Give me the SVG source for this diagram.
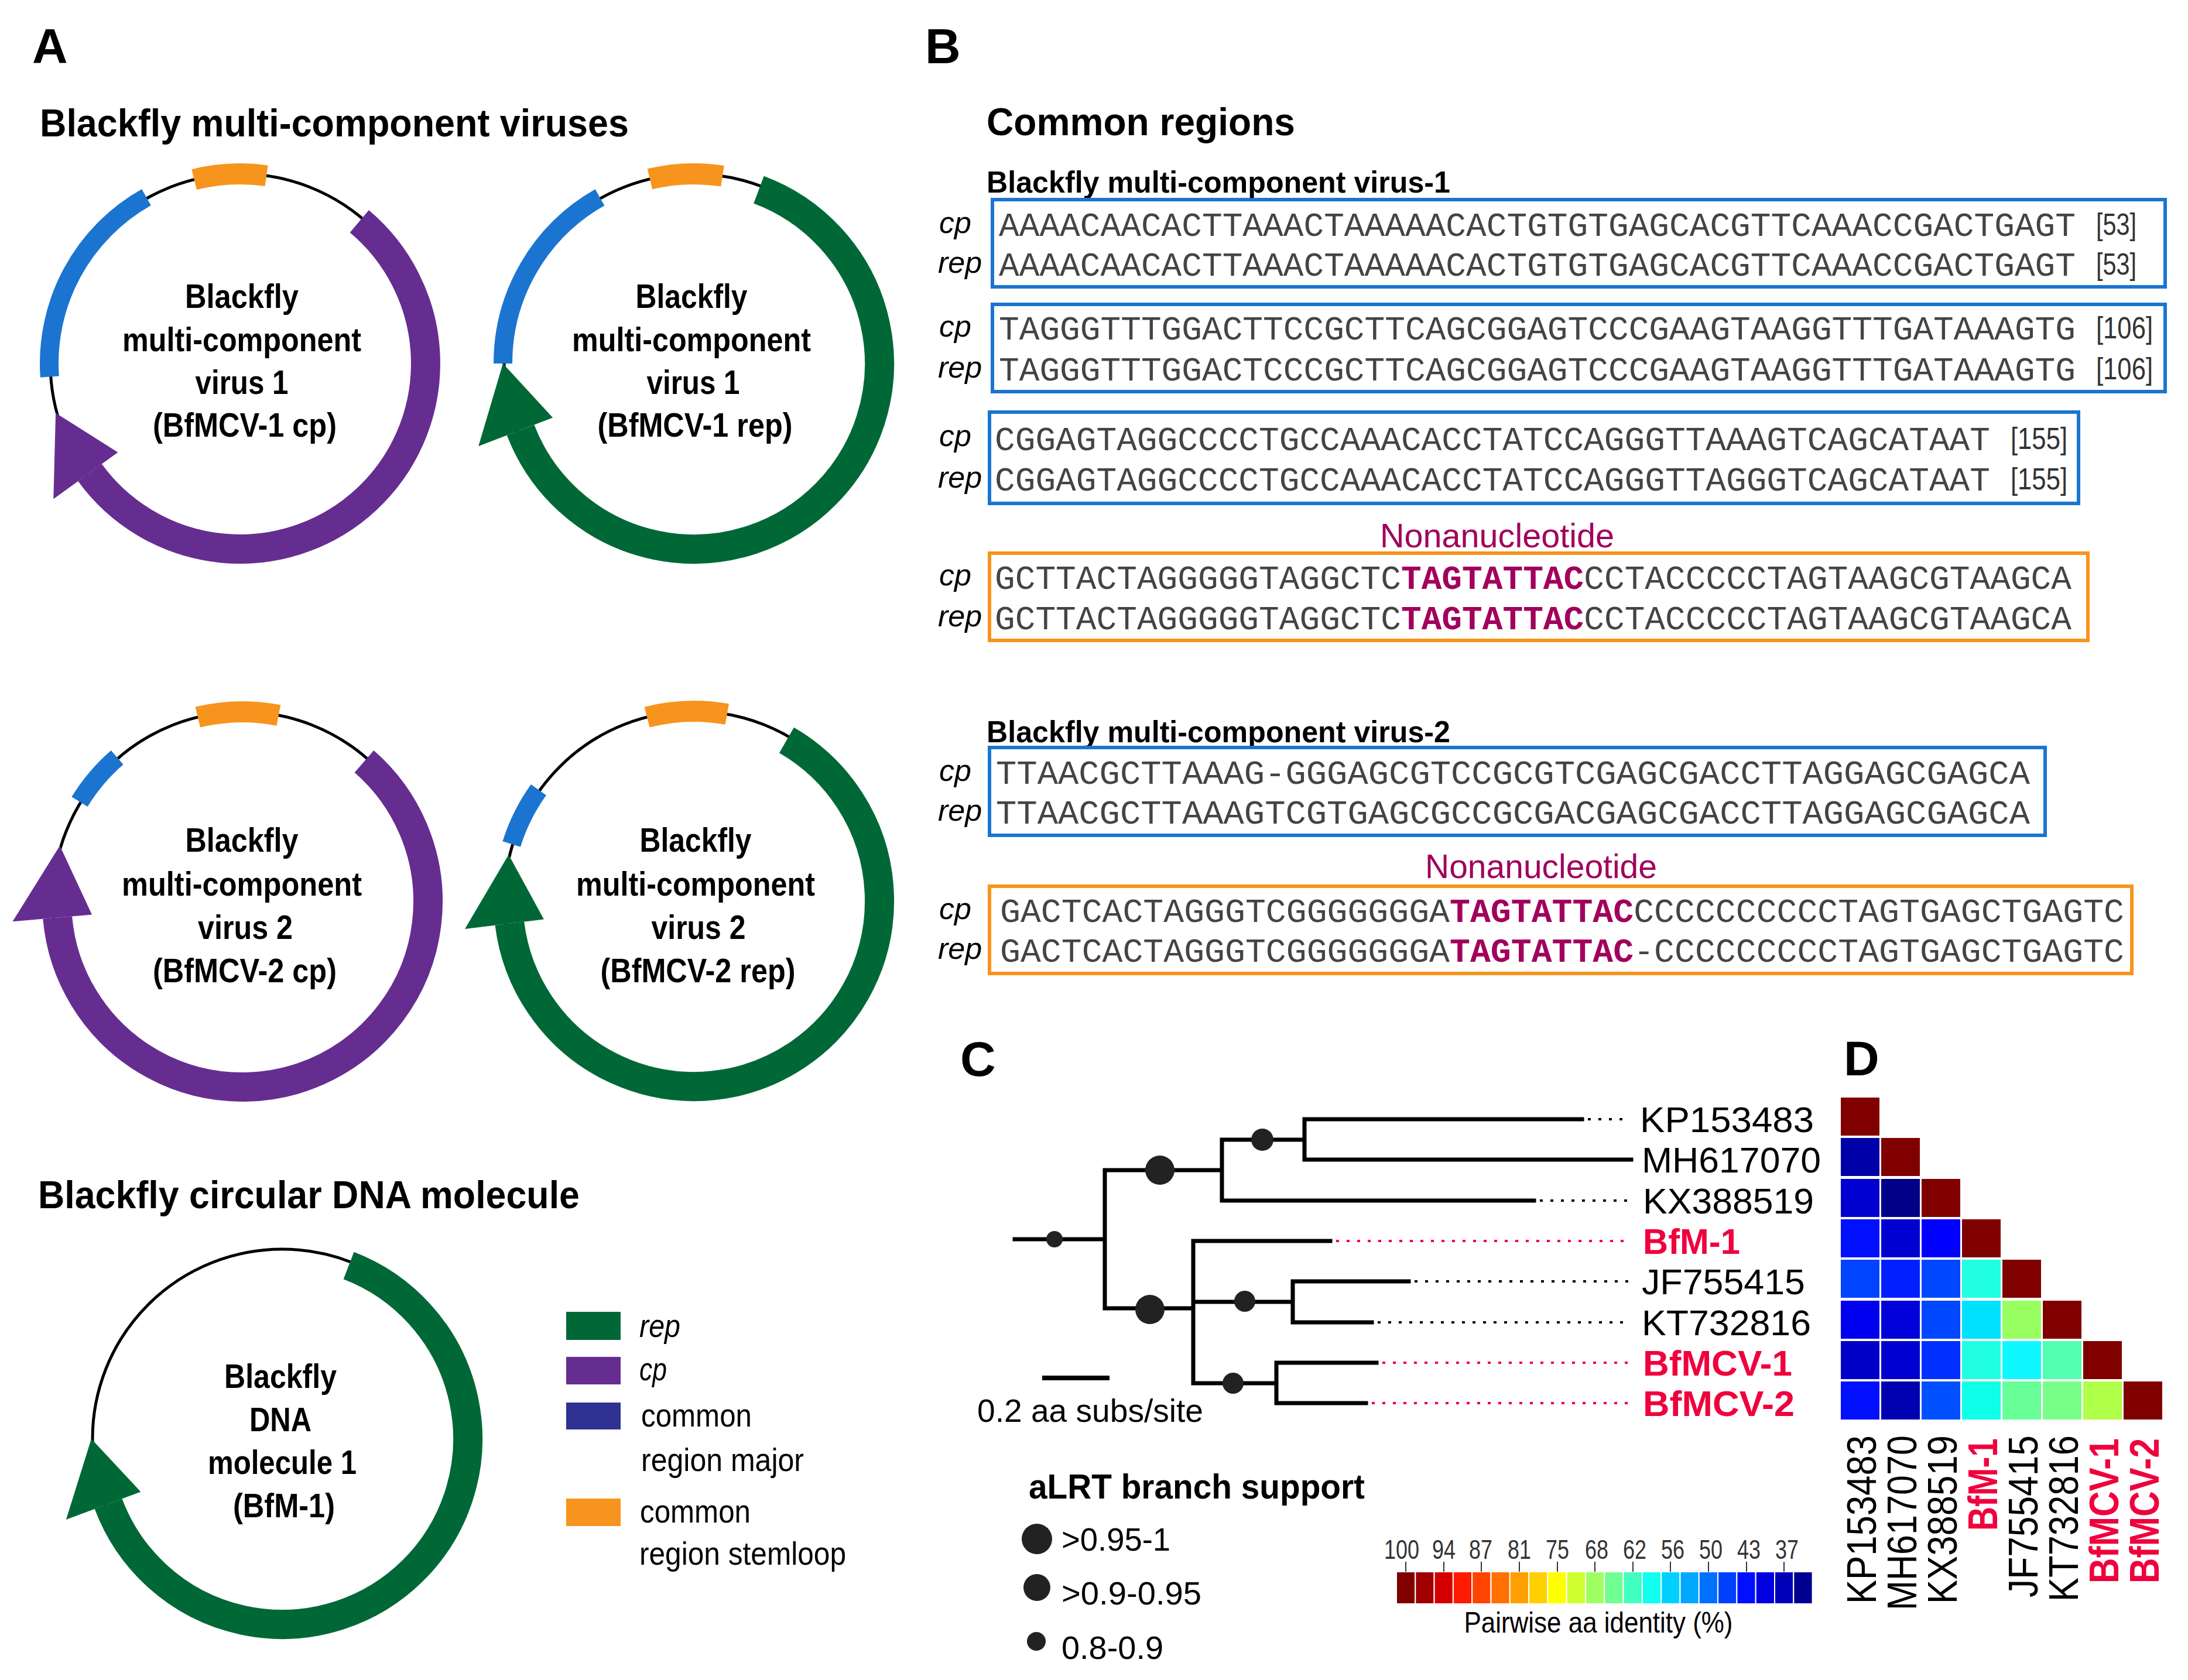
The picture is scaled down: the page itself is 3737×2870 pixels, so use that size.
<svg xmlns="http://www.w3.org/2000/svg" width="3737" height="2870" viewBox="0 0 3737 2870">
<style>
text{font-family:'Liberation Sans Narrow','Liberation Sans',Arial,sans-serif;fill:#000}
.lab{font-size:84px;font-weight:bold;font-family:'Liberation Sans',Arial,sans-serif}
.ttl{font-size:66px;font-weight:bold}
.sub{font-size:52px;font-weight:bold}
.ct{font-size:57px;font-weight:bold;text-anchor:middle}
.lg{font-size:56px}
.it{font-style:italic}
.seq{font-family:'Liberation Mono','Courier New',monospace;font-size:57px;fill:#444}
.nn{fill:#a1005c;font-weight:bold}
.nonl{font-size:58px;fill:#a1005c;text-anchor:middle}
.num{font-size:52px;fill:#333}
.sl{font-size:52px;font-style:italic}
.tip{font-size:61px}
.hl{font-size:70px}
.red{fill:#f0003c;font-weight:bold}
.sm{font-size:56px}
.tk{font-size:46px;fill:#333;text-anchor:middle}
.bb{fill:none;stroke:#000;stroke-width:5}
.arc{fill:none}
.or{stroke:#f7941d;stroke-width:36}
.bl{stroke:#1b75d0;stroke-width:32}
.pu{stroke:#662d91;stroke-width:50}
.gr{stroke:#006837;stroke-width:50}
.boxb{fill:none;stroke:#1b75d0;stroke-width:6}
.boxo{fill:none;stroke:#f7941d;stroke-width:6}
.br{stroke:#000;stroke-width:7;fill:none;stroke-linecap:square}
.dk{stroke:#000;stroke-width:4;stroke-dasharray:5 13}
.dr{stroke:#f0003c;stroke-width:4;stroke-dasharray:5 13}
.dot{fill:#222}
.hc{stroke:#fff;stroke-width:2}
</style>
<rect width="3737" height="2870" fill="#fff"/>

<!-- Panel A -->
<g id="panelA">
<text class="lab" x="55" y="108">A</text>
<text class="ttl" x="68" y="233" textLength="1006" lengthAdjust="spacingAndGlyphs">Blackfly multi-component viruses</text>

<g id="bfmcv1-cp">
<circle cx="410" cy="621" r="324" class="bb"/>
<path class="arc or" d="M331.6,306.6 A324,324 0 0 1 455.1,300.2"/>
<path class="arc bl" d="M84.8,643.7 A326,326 0 0 1 250.0,337.0"/>
<path class="arc pu" d="M613.8,378.2 A317,317 0 1 1 153.5,807.3"/>
<polygon fill="#662d91" points="201.3,772.7 91.3,852.6 95.1,705.4"/>
<text class="ct" x="413" y="526" textLength="194" lengthAdjust="spacingAndGlyphs">Blackfly</text>
<text class="ct" x="413" y="600" textLength="408" lengthAdjust="spacingAndGlyphs">multi-component</text>
<text class="ct" x="413" y="673" textLength="159" lengthAdjust="spacingAndGlyphs">virus 1</text>
<text class="ct" x="418" y="746" textLength="314" lengthAdjust="spacingAndGlyphs">(BfMCV-1 cp)</text>
</g>

<g id="bfmcv1-rep">
<circle cx="1185" cy="621" r="324" class="bb"/>
<path class="arc or" d="M1109.9,305.8 A324,324 0 0 1 1234.0,300.7"/>
<path class="arc bl" d="M859,621 A326,326 0 0 1 1024.5,337.2"/>
<path class="arc gr" d="M1296.0,324.1 A317,317 0 1 1 889.1,734.6"/>
<polygon fill="#006837" points="944.1,713.5 817.2,762.2 859,621"/>
<text class="ct" x="1181" y="526" textLength="191" lengthAdjust="spacingAndGlyphs">Blackfly</text>
<text class="ct" x="1181" y="600" textLength="408" lengthAdjust="spacingAndGlyphs">multi-component</text>
<text class="ct" x="1184" y="673" textLength="159" lengthAdjust="spacingAndGlyphs">virus 1</text>
<text class="ct" x="1187" y="746" textLength="333" lengthAdjust="spacingAndGlyphs">(BfMCV-1 rep)</text>
</g>

<g id="bfmcv2-cp">
<circle cx="414" cy="1540" r="324" class="bb"/>
<path class="arc or" d="M337.8,1225.1 A324,324 0 0 1 475.8,1222.0"/>
<path class="arc bl" d="M136.0,1369.7 A326,326 0 0 1 200.1,1294.0"/>
<path class="arc pu" d="M622.0,1300.8 A317,317 0 1 1 98.2,1567.6"/>
<polygon fill="#662d91" points="157.0,1562.5 21.5,1574.3 102.2,1444.7"/>
<text class="ct" x="413" y="1455" textLength="193" lengthAdjust="spacingAndGlyphs">Blackfly</text>
<text class="ct" x="413" y="1530" textLength="410" lengthAdjust="spacingAndGlyphs">multi-component</text>
<text class="ct" x="419" y="1604" textLength="162" lengthAdjust="spacingAndGlyphs">virus 2</text>
<text class="ct" x="418" y="1678" textLength="314" lengthAdjust="spacingAndGlyphs">(BfMCV-2 cp)</text>
</g>

<g id="bfmcv2-rep">
<circle cx="1185" cy="1539" r="324" class="bb"/>
<path class="arc or" d="M1105.0,1225.1 A324,324 0 0 1 1241.8,1220.0"/>
<path class="arc bl" d="M873.7,1442.0 A326,326 0 0 1 919.9,1349.2"/>
<path class="arc gr" d="M1343.5,1264.5 A317,317 0 1 1 870.4,1577.6"/>
<polygon fill="#006837" points="928.9,1570.4 794.0,1587.0 868.7,1460.1"/>
<text class="ct" x="1188" y="1455" textLength="191" lengthAdjust="spacingAndGlyphs">Blackfly</text>
<text class="ct" x="1188" y="1530" textLength="408" lengthAdjust="spacingAndGlyphs">multi-component</text>
<text class="ct" x="1193" y="1604" textLength="161" lengthAdjust="spacingAndGlyphs">virus 2</text>
<text class="ct" x="1192" y="1678" textLength="333" lengthAdjust="spacingAndGlyphs">(BfMCV-2 rep)</text>
</g>

<text class="ttl" x="65" y="2064" textLength="925" lengthAdjust="spacingAndGlyphs">Blackfly circular DNA molecule</text>

<g id="bfm1">
<circle cx="482" cy="2458" r="324" class="bb"/>
<path class="arc gr" d="M595.6,2162.0 A317,317 0 1 1 185.1,2569.0"/>
<polygon fill="#006837" points="240.3,2548.4 112.9,2596.0 156,2458"/>
<text class="ct" x="479" y="2371" textLength="192" lengthAdjust="spacingAndGlyphs">Blackfly</text>
<text class="ct" x="479" y="2445" textLength="106" lengthAdjust="spacingAndGlyphs">DNA</text>
<text class="ct" x="482" y="2518" textLength="254" lengthAdjust="spacingAndGlyphs">molecule 1</text>
<text class="ct" x="485" y="2592" textLength="174" lengthAdjust="spacingAndGlyphs">(BfM-1)</text>
</g>

<g id="legendA">
<rect x="967" y="2241" width="93" height="48" fill="#006837"/>
<rect x="967" y="2318" width="93" height="47" fill="#662d91"/>
<rect x="967" y="2396" width="93" height="46" fill="#2e3192"/>
<rect x="967" y="2560" width="93" height="47" fill="#f7941d"/>
<text class="lg it" x="1092" y="2284" textLength="70" lengthAdjust="spacingAndGlyphs">rep</text>
<text class="lg it" x="1092" y="2358" textLength="47" lengthAdjust="spacingAndGlyphs">cp</text>
<text class="lg" x="1095" y="2437" textLength="189" lengthAdjust="spacingAndGlyphs">common</text>
<text class="lg" x="1095" y="2513" textLength="278" lengthAdjust="spacingAndGlyphs">region major</text>
<text class="lg" x="1093" y="2601" textLength="189" lengthAdjust="spacingAndGlyphs">common</text>
<text class="lg" x="1092" y="2673" textLength="353" lengthAdjust="spacingAndGlyphs">region stemloop</text>
</g>
</g>

<!-- Panel B -->
<g id="panelB">
<text class="lab" x="1580" y="108">B</text>
<text class="ttl" x="1685" y="231" textLength="527" lengthAdjust="spacingAndGlyphs">Common regions</text>
<text class="sub" x="1685" y="329" textLength="792" lengthAdjust="spacingAndGlyphs">Blackfly multi-component virus-1</text>

<g id="box1">
<rect class="boxb" x="1695" y="341" width="2003" height="149"/>
<text class="sl" x="1604" y="398">cp</text>
<text class="sl" x="1602" y="466">rep</text>
<text class="seq" x="1706" y="403" textLength="1839" lengthAdjust="spacingAndGlyphs">AAAACAACACTTAAACTAAAAACACTGTGTGAGCACGTTCAAACCGACTGAGT</text>
<text class="seq" x="1706" y="471" textLength="1839" lengthAdjust="spacingAndGlyphs">AAAACAACACTTAAACTAAAAACACTGTGTGAGCACGTTCAAACCGACTGAGT</text>
<text class="num" x="3580" y="401" textLength="69" lengthAdjust="spacingAndGlyphs">[53]</text>
<text class="num" x="3580" y="469" textLength="69" lengthAdjust="spacingAndGlyphs">[53]</text>
</g>

<g id="box2">
<rect class="boxb" x="1695" y="520" width="2003" height="149"/>
<text class="sl" x="1604" y="575">cp</text>
<text class="sl" x="1602" y="645">rep</text>
<text class="seq" x="1706" y="580" textLength="1839" lengthAdjust="spacingAndGlyphs">TAGGGTTTGGACTTCCGCTTCAGCGGAGTCCCGAAGTAAGGTTTGATAAAGTG</text>
<text class="seq" x="1706" y="650" textLength="1839" lengthAdjust="spacingAndGlyphs">TAGGGTTTGGACTCCCGCTTCAGCGGAGTCCCGAAGTAAGGTTTGATAAAGTG</text>
<text class="num" x="3580" y="578" textLength="97" lengthAdjust="spacingAndGlyphs">[106]</text>
<text class="num" x="3580" y="648" textLength="97" lengthAdjust="spacingAndGlyphs">[106]</text>
</g>

<g id="box3">
<rect class="boxb" x="1690" y="704" width="1860" height="156"/>
<text class="sl" x="1604" y="762">cp</text>
<text class="sl" x="1602" y="833">rep</text>
<text class="seq" x="1699" y="769" textLength="1700" lengthAdjust="spacingAndGlyphs">CGGAGTAGGCCCCTGCCAAACACCTATCCAGGGTTAAAGTCAGCATAAT</text>
<text class="seq" x="1699" y="838" textLength="1700" lengthAdjust="spacingAndGlyphs">CGGAGTAGGCCCCTGCCAAACACCTATCCAGGGTTAGGGTCAGCATAAT</text>
<text class="num" x="3434" y="767" textLength="97" lengthAdjust="spacingAndGlyphs">[155]</text>
<text class="num" x="3434" y="836" textLength="97" lengthAdjust="spacingAndGlyphs">[155]</text>
</g>

<text class="nonl" x="2557" y="935" textLength="400" lengthAdjust="spacingAndGlyphs">Nonanucleotide</text>

<g id="box4">
<rect class="boxo" x="1690" y="945" width="1876" height="149"/>
<text class="sl" x="1604" y="1000">cp</text>
<text class="sl" x="1602" y="1070">rep</text>
<text class="seq" x="1699" y="1006" textLength="1839" lengthAdjust="spacingAndGlyphs">GCTTACTAGGGGGTAGGCTC<tspan class="nn">TAGTATTAC</tspan>CCTACCCCCTAGTAAGCGTAAGCA</text>
<text class="seq" x="1699" y="1075" textLength="1839" lengthAdjust="spacingAndGlyphs">GCTTACTAGGGGGTAGGCTC<tspan class="nn">TAGTATTAC</tspan>CCTACCCCCTAGTAAGCGTAAGCA</text>
</g>

<text class="sub" x="1685" y="1268" textLength="792" lengthAdjust="spacingAndGlyphs">Blackfly multi-component virus-2</text>

<g id="box5">
<rect class="boxb" x="1690" y="1277" width="1803" height="150"/>
<text class="sl" x="1604" y="1334">cp</text>
<text class="sl" x="1602" y="1402">rep</text>
<text class="seq" x="1701" y="1339" textLength="1766" lengthAdjust="spacingAndGlyphs">TTAACGCTTAAAG-GGGAGCGTCCGCGTCGAGCGACCTTAGGAGCGAGCA</text>
<text class="seq" x="1701" y="1407" textLength="1766" lengthAdjust="spacingAndGlyphs">TTAACGCTTAAAGTCGTGAGCGCCGCGACGAGCGACCTTAGGAGCGAGCA</text>
</g>

<text class="nonl" x="2632" y="1500" textLength="396" lengthAdjust="spacingAndGlyphs">Nonanucleotide</text>

<g id="box6">
<rect class="boxo" x="1690" y="1514" width="1951" height="149"/>
<text class="sl" x="1604" y="1570">cp</text>
<text class="sl" x="1602" y="1638">rep</text>
<text class="seq" x="1708" y="1575" textLength="1920" lengthAdjust="spacingAndGlyphs">GACTCACTAGGGTCGGGGGGGA<tspan class="nn">TAGTATTAC</tspan>CCCCCCCCCCTAGTGAGCTGAGTC</text>
<text class="seq" x="1708" y="1643" textLength="1920" lengthAdjust="spacingAndGlyphs">GACTCACTAGGGTCGGGGGGGA<tspan class="nn">TAGTATTAC</tspan>-CCCCCCCCCTAGTGAGCTGAGTC</text>
</g>
</g>

<!-- Panel C -->
<g id="panelC">
<text class="lab" x="1640" y="1838">C</text>

<g id="connectors">
<path class="br" d="M2228,1912 H2702 M2228,1981 H2786 M2228,1912 V1981 M2087,1947 H2228 M2087,1947 V2051 H2620 M1887,1999 H2087 M1887,1999 V2235 H2038 M1733,2117 H1887 M2038,2120 V2363 M2038,2120 H2272 M2038,2224 H2208 M2208,2189 V2259 M2208,2189 H2406 M2208,2259 H2343 M2038,2363 H2180 M2180,2328 V2397 M2180,2328 H2351 M2180,2397 H2333"/>
<line class="dk" x1="2712" y1="1912" x2="2781" y2="1912"/>
<line class="dk" x1="2630" y1="2051" x2="2781" y2="2051"/>
<line class="dr" x1="2282" y1="2120" x2="2781" y2="2120"/>
<line class="dk" x1="2416" y1="2189" x2="2781" y2="2189"/>
<line class="dk" x1="2353" y1="2259" x2="2781" y2="2259"/>
<line class="dr" x1="2361" y1="2328" x2="2781" y2="2328"/>
<line class="dr" x1="2343" y1="2397" x2="2781" y2="2397"/>
</g>

<g id="support-dots">
<circle class="dot" cx="2156" cy="1947" r="19"/>
<circle class="dot" cx="1981" cy="1999" r="25"/>
<circle class="dot" cx="1964" cy="2237" r="25"/>
<circle class="dot" cx="2126" cy="2223" r="18"/>
<circle class="dot" cx="2106" cy="2363" r="18"/>
<circle class="dot" cx="1801" cy="2117" r="14"/>
</g>

<g id="tips">
<text class="tip" x="2801" y="1934" textLength="297" lengthAdjust="spacingAndGlyphs">KP153483</text>
<text class="tip" x="2804" y="2003" textLength="306" lengthAdjust="spacingAndGlyphs">MH617070</text>
<text class="tip" x="2806" y="2073" textLength="292" lengthAdjust="spacingAndGlyphs">KX388519</text>
<text class="tip red" x="2806" y="2142" textLength="166" lengthAdjust="spacingAndGlyphs">BfM-1</text>
<text class="tip" x="2804" y="2211" textLength="279" lengthAdjust="spacingAndGlyphs">JF755415</text>
<text class="tip" x="2804" y="2281" textLength="289" lengthAdjust="spacingAndGlyphs">KT732816</text>
<text class="tip red" x="2806" y="2350" textLength="255" lengthAdjust="spacingAndGlyphs">BfMCV-1</text>
<text class="tip red" x="2806" y="2419" textLength="259" lengthAdjust="spacingAndGlyphs">BfMCV-2</text>
</g>

<g id="scalebar">
<line x1="1780" y1="2354" x2="1895" y2="2354" stroke="#000" stroke-width="8"/>
<text class="sm" x="1669" y="2429" textLength="386" lengthAdjust="spacingAndGlyphs">0.2 aa subs/site</text>
</g>

<g id="support-legend">
<text x="1757" y="2560" font-size="60" font-weight="bold" fill="#222" textLength="574" lengthAdjust="spacingAndGlyphs">aLRT branch support</text>
<circle class="dot" cx="1771" cy="2629" r="26"/>
<circle class="dot" cx="1771" cy="2712" r="23"/>
<circle class="dot" cx="1770" cy="2804" r="16"/>
<text class="sm" x="1813" y="2649" textLength="186" lengthAdjust="spacingAndGlyphs">&gt;0.95-1</text>
<text class="sm" x="1813" y="2741" textLength="239" lengthAdjust="spacingAndGlyphs">&gt;0.9-0.95</text>
<text class="sm" x="1813" y="2834" textLength="174" lengthAdjust="spacingAndGlyphs">0.8-0.9</text>
</g>

<g id="colorbar">
<rect x="2385.0" y="2685" width="32.3" height="55" fill="#800000" class="hc"/>
<rect x="2417.3" y="2685" width="32.3" height="55" fill="#a00000" class="hc"/>
<rect x="2449.6" y="2685" width="32.3" height="55" fill="#d40000" class="hc"/>
<rect x="2481.9" y="2685" width="32.3" height="55" fill="#ff1a00" class="hc"/>
<rect x="2514.2" y="2685" width="32.3" height="55" fill="#ff4400" class="hc"/>
<rect x="2546.5" y="2685" width="32.3" height="55" fill="#ff7000" class="hc"/>
<rect x="2578.8" y="2685" width="32.3" height="55" fill="#ffa000" class="hc"/>
<rect x="2611.1" y="2685" width="32.3" height="55" fill="#ffd000" class="hc"/>
<rect x="2643.4" y="2685" width="32.3" height="55" fill="#ffff00" class="hc"/>
<rect x="2675.7" y="2685" width="32.3" height="55" fill="#d0ff30" class="hc"/>
<rect x="2708.0" y="2685" width="32.3" height="55" fill="#a0ff60" class="hc"/>
<rect x="2740.3" y="2685" width="32.3" height="55" fill="#70ff90" class="hc"/>
<rect x="2772.6" y="2685" width="32.3" height="55" fill="#40ffc0" class="hc"/>
<rect x="2804.9" y="2685" width="32.3" height="55" fill="#10ffef" class="hc"/>
<rect x="2837.2" y="2685" width="32.3" height="55" fill="#00d0ff" class="hc"/>
<rect x="2869.5" y="2685" width="32.3" height="55" fill="#00a8ff" class="hc"/>
<rect x="2901.8" y="2685" width="32.3" height="55" fill="#0070ff" class="hc"/>
<rect x="2934.1" y="2685" width="32.3" height="55" fill="#0040ff" class="hc"/>
<rect x="2966.4" y="2685" width="32.3" height="55" fill="#0010ff" class="hc"/>
<rect x="2998.7" y="2685" width="32.3" height="55" fill="#0000e0" class="hc"/>
<rect x="3031.0" y="2685" width="32.3" height="55" fill="#0000b8" class="hc"/>
<rect x="3063.3" y="2685" width="32.3" height="55" fill="#000090" class="hc"/>
<path stroke="#333" stroke-width="2" d="M2401,2668V2685 M2466,2668V2685 M2530,2668V2685 M2595,2668V2685 M2660,2668V2685 M2724,2668V2685 M2789,2668V2685 M2853,2668V2685 M2918,2668V2685 M2983,2668V2685 M3047,2668V2685"/>
<text class="tk" x="2394" y="2663" textLength="60" lengthAdjust="spacingAndGlyphs">100</text>
<text class="tk" x="2466" y="2663" textLength="40" lengthAdjust="spacingAndGlyphs">94</text>
<text class="tk" x="2529" y="2663" textLength="40" lengthAdjust="spacingAndGlyphs">87</text>
<text class="tk" x="2595" y="2663" textLength="40" lengthAdjust="spacingAndGlyphs">81</text>
<text class="tk" x="2660" y="2663" textLength="40" lengthAdjust="spacingAndGlyphs">75</text>
<text class="tk" x="2727" y="2663" textLength="40" lengthAdjust="spacingAndGlyphs">68</text>
<text class="tk" x="2792" y="2663" textLength="40" lengthAdjust="spacingAndGlyphs">62</text>
<text class="tk" x="2857" y="2663" textLength="40" lengthAdjust="spacingAndGlyphs">56</text>
<text class="tk" x="2922" y="2663" textLength="40" lengthAdjust="spacingAndGlyphs">50</text>
<text class="tk" x="2987" y="2663" textLength="40" lengthAdjust="spacingAndGlyphs">43</text>
<text class="tk" x="3052" y="2663" textLength="40" lengthAdjust="spacingAndGlyphs">37</text>
<text x="2730" y="2789" font-size="50" fill="#333" text-anchor="middle" textLength="459" lengthAdjust="spacingAndGlyphs">Pairwise aa identity (%)</text>
</g>
</g>

<!-- Panel D -->
<g id="panelD">
<text class="lab" x="3149" y="1837">D</text>
<g id="heatmap">
<rect x="3144" y="1875" width="66" height="65" fill="#800000"/>
<rect x="3144" y="1944" width="66" height="65" fill="#0000a8"/>
<rect x="3213" y="1944" width="66" height="65" fill="#800000"/>
<rect x="3144" y="2014" width="66" height="65" fill="#0000d0"/>
<rect x="3213" y="2014" width="66" height="65" fill="#000088"/>
<rect x="3282" y="2014" width="66" height="65" fill="#800000"/>
<rect x="3144" y="2083" width="66" height="65" fill="#0010ff"/>
<rect x="3213" y="2083" width="66" height="65" fill="#0000d0"/>
<rect x="3282" y="2083" width="66" height="65" fill="#0000ff"/>
<rect x="3351" y="2083" width="66" height="65" fill="#800000"/>
<rect x="3144" y="2152" width="66" height="65" fill="#0044ff"/>
<rect x="3213" y="2152" width="66" height="65" fill="#0020ff"/>
<rect x="3282" y="2152" width="66" height="65" fill="#0048ff"/>
<rect x="3351" y="2152" width="66" height="65" fill="#20ffe0"/>
<rect x="3420" y="2152" width="66" height="65" fill="#800000"/>
<rect x="3144" y="2222" width="66" height="65" fill="#0000f0"/>
<rect x="3213" y="2222" width="66" height="65" fill="#0000d8"/>
<rect x="3282" y="2222" width="66" height="65" fill="#0048ff"/>
<rect x="3351" y="2222" width="66" height="65" fill="#00e0ff"/>
<rect x="3420" y="2222" width="66" height="65" fill="#98ff60"/>
<rect x="3489" y="2222" width="66" height="65" fill="#800000"/>
<rect x="3144" y="2291" width="66" height="65" fill="#0000c8"/>
<rect x="3213" y="2291" width="66" height="65" fill="#0000d0"/>
<rect x="3282" y="2291" width="66" height="65" fill="#0030ff"/>
<rect x="3351" y="2291" width="66" height="65" fill="#20ffe0"/>
<rect x="3420" y="2291" width="66" height="65" fill="#10f8ff"/>
<rect x="3489" y="2291" width="66" height="65" fill="#50ffb0"/>
<rect x="3558" y="2291" width="66" height="65" fill="#800000"/>
<rect x="3144" y="2360" width="66" height="65" fill="#0010ff"/>
<rect x="3213" y="2360" width="66" height="65" fill="#0000b0"/>
<rect x="3282" y="2360" width="66" height="65" fill="#0050ff"/>
<rect x="3351" y="2360" width="66" height="65" fill="#10ffe8"/>
<rect x="3420" y="2360" width="66" height="65" fill="#68ff98"/>
<rect x="3489" y="2360" width="66" height="65" fill="#78ff8a"/>
<rect x="3558" y="2360" width="66" height="65" fill="#b0ff48"/>
<rect x="3627" y="2360" width="66" height="65" fill="#800000"/>
</g>
<g id="heat-labels">
<text class="hl" text-anchor="end" transform="translate(3204,2452) rotate(-90)" textLength="288" lengthAdjust="spacingAndGlyphs">KP153483</text>
<text class="hl" text-anchor="end" transform="translate(3273,2452) rotate(-90)" textLength="299" lengthAdjust="spacingAndGlyphs">MH617070</text>
<text class="hl" text-anchor="end" transform="translate(3342,2452) rotate(-90)" textLength="288" lengthAdjust="spacingAndGlyphs">KX388519</text>
<text class="hl red" text-anchor="end" transform="translate(3411,2457) rotate(-90)" textLength="158" lengthAdjust="spacingAndGlyphs">BfM-1</text>
<text class="hl" text-anchor="end" transform="translate(3480,2452) rotate(-90)" textLength="277" lengthAdjust="spacingAndGlyphs">JF755415</text>
<text class="hl" text-anchor="end" transform="translate(3549,2452) rotate(-90)" textLength="284" lengthAdjust="spacingAndGlyphs">KT732816</text>
<text class="hl red" text-anchor="end" transform="translate(3618,2457) rotate(-90)" textLength="248" lengthAdjust="spacingAndGlyphs">BfMCV-1</text>
<text class="hl red" text-anchor="end" transform="translate(3687,2457) rotate(-90)" textLength="248" lengthAdjust="spacingAndGlyphs">BfMCV-2</text>
</g>
</g>
</svg>
